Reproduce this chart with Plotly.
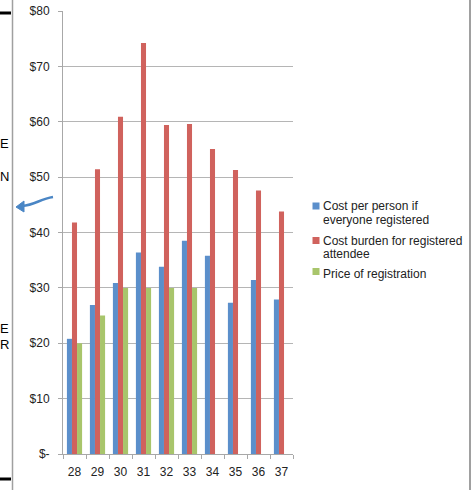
import plotly.graph_objects as go

categories = ["28", "29", "30", "31", "32", "33", "34", "35", "36", "37"]
cost_per_person = [20.8, 26.9, 30.9, 36.4, 33.8, 38.5, 35.8, 27.3, 31.4, 27.9]
cost_burden = [41.8, 51.4, 60.9, 74.2, 59.4, 59.6, 55.1, 51.3, 47.6, 43.8]
price_registration = [20, 25, 30, 30, 30, 30, None, None, None, None]
series_names = ["Cost per person if everyone registered",
                "Cost burden for registered attendee",
                "Price of registration"]
legend_lines = [["Cost per person if", "everyone registered"],
                ["Cost burden for registered", "attendee"],
                ["Price of registration"]]
y_tick_vals = [0, 10, 20, 30, 40, 50, 60, 70, 80]
y_tick_text = ["$-", "$10", "$20", "$30", "$40", "$50", "$60", "$70", "$80"]

W, H = 474, 490
L, R, T, B = 63, 293, 11, 454

def px(x):
    return (x - L) / (R - L)

def py(y):
    return (B - y) / (B - T)

FONT = "Liberation Sans, Arial, sans-serif"

fig = go.Figure()
colors = ["#5b8fcb", "#d0625d", "#a8c56b"]
for name, vals, c in zip(series_names, [cost_per_person, cost_burden, price_registration], colors):
    fig.add_trace(go.Bar(x=categories, y=vals, name=name, marker=dict(color=c, line=dict(width=0))))

shapes = []
# left vertical frame line
shapes.append(dict(type="line", xref="paper", yref="paper", x0=px(12.5), x1=px(12.5), y0=py(0), y1=py(490),
                   line=dict(color="#a0a0a0", width=1.5)))
# right vertical frame line
shapes.append(dict(type="line", xref="paper", yref="paper", x0=px(470), x1=px(470), y0=py(0), y1=py(490),
                   line=dict(color="#a0a0a0", width=2)))
# black short bars
for yy in (13, 479):
    shapes.append(dict(type="line", xref="paper", yref="paper", x0=px(0), x1=px(11), y0=py(yy), y1=py(yy),
                       line=dict(color="#000000", width=3)))
# curved arrow
path = "M{},{} C{},{} {},{} {},{}".format(px(53), py(197), px(40), py(199), px(35), py(205), px(22), py(206))
shapes.append(dict(type="path", xref="paper", yref="paper", path=path, line=dict(color="#4a86c5", width=2.5)))
head = "M{},{} L{},{} L{},{} Z".format(px(16), py(207), px(24), py(201), px(24), py(212))
shapes.append(dict(type="path", xref="paper", yref="paper", path=head, fillcolor="#4a86c5",
                   line=dict(color="#4a86c5", width=1)))

annotations = []
for letter, yy in (("E", 143), ("N", 176), ("E", 328), ("R", 344)):
    annotations.append(dict(text=letter, xref="paper", yref="paper", x=px(-2), y=py(yy), xanchor="left",
                            yanchor="middle", showarrow=False, font=dict(family=FONT, size=13, color="#000")))

# manual legend (layout positions)
legend_sq_y = [206, 240.5, 271.5]
legend_text_y = [[206, 220.5], [241, 254], [274]]
for c, sy, lines, ty in zip(colors, legend_sq_y, legend_lines, legend_text_y):
    shapes.append(dict(type="rect", xref="paper", yref="paper", x0=px(312.5), x1=px(319.5),
                       y0=py(sy - 3.5), y1=py(sy + 3.5), fillcolor=c, line=dict(width=0)))
    for line, yy in zip(lines, ty):
        annotations.append(dict(text=line, xref="paper", yref="paper", x=px(320.5), y=py(yy),
                                xanchor="left", yanchor="middle", showarrow=False,
                                font=dict(family=FONT, size=12, color="#222")))

fig.update_layout(
    width=W, height=H,
    margin=dict(l=L, r=W - R, t=T, b=H - B, pad=0, autoexpand=False),
    paper_bgcolor="white", plot_bgcolor="white",
    barmode="group", bargap=0.34, bargroupgap=0,
    font=dict(family=FONT, size=12, color="#222"),
    showlegend=False,
    shapes=shapes,
    annotations=annotations,
)
fig.update_yaxes(range=[0, 80], tickvals=y_tick_vals, ticktext=y_tick_text,
                 showgrid=True, gridcolor="#b5b5b5", gridwidth=1,
                 showline=True, linecolor="#a8a8a8", linewidth=1,
                 ticks="outside", ticklen=4, tickcolor="#a8a8a8",
                 ticklabelstandoff=6, zeroline=False, automargin=False,
                 tickfont=dict(family=FONT, size=12, color="#222"))
fig.update_xaxes(type="category", showline=True, linecolor="#a8a8a8", linewidth=1,
                 ticks="outside", ticklen=4, tickcolor="#a8a8a8", tickson="boundaries",
                 showgrid=False, tickangle=0, automargin=False, ticklabelstandoff=7,
                 tickfont=dict(family=FONT, size=12, color="#222"))

fig.write_html("out.html", config={"displayModeBar": False},
               post_script="document.body.style.margin='0';document.body.style.overflow='hidden';")
